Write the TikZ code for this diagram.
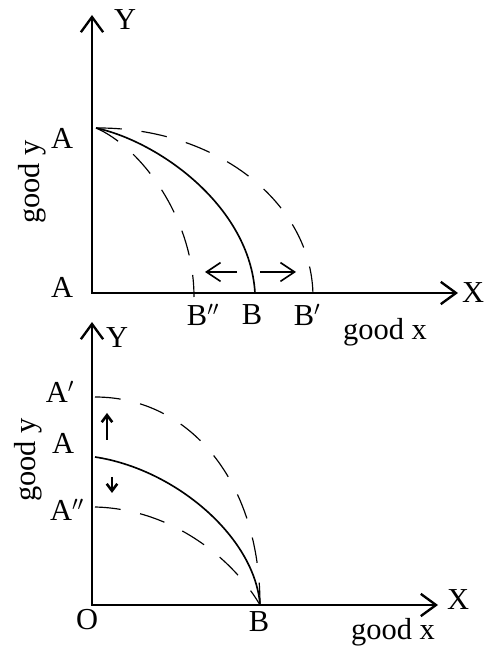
\documentclass[tikz,border=0pt]{standalone}
\usepackage{fontspec}
\setmainfont{Liberation Serif}
\usepackage{tikz}
\usetikzlibrary{
  arrows.meta,
  calc
}

\begin{document}
\begin{tikzpicture}[x=0.03cm, y=0.03cm,
  lbl/.style={font=\fontsize{26}{30}\selectfont, inner sep=0pt},
  axisline/.style={line width=2pt, line cap=round,
    {Straight Barb[length=13pt,width=19pt]}-{Straight Barb[length=13pt,width=19pt]}},
  ppf/.style={line width=1.4pt},
  ppfdash/.style={line width=1pt, dash pattern=on 22pt off 17pt},
  shiftarrow/.style={line width=1.4pt, -{Straight Barb[length=12pt,width=16pt]}},
  nudge/.style={line width=2.2pt, -{Straight Barb[length=6pt,width=9pt]}}]
  \useasboundingbox (0,0) rectangle (485,647);

  \coordinate (yt) at (92,632);
  \coordinate (ot) at (92,354);
  \coordinate (xt) at (458,354);
  \draw[axisline] (yt) |- (xt);
  \coordinate (At) at (96,519);
  \coordinate (Bt) at (255,354);
  \coordinate (Bpt) at (313,350);
  \coordinate (Bppt) at (194,350);
  \draw[ppf] (At) .. controls (160,505) and (250,440) .. (Bt);
  \draw[ppfdash] (At) .. controls (216,520) and (313,444) .. (Bpt);
  \draw[ppfdash] (At) .. controls (140,500) and (194,430) .. (Bppt);
  \coordinate (lft0) at (237,375);
  \coordinate (lft1) at (205,375);
  \coordinate (rgt0) at (260,375);
  \coordinate (rgt1) at (296,375);
  \draw[shiftarrow] (lft0) -- (lft1);
  \draw[shiftarrow] (rgt0) -- (rgt1);
  \foreach \nm/\px/\py/\txt in {ylbt/125/627/Y, xlbt/473/354/X, alblt/62/509/A,
      aolbt/62/360/A, bpplbt/203/332/B$''$, bblbt/252/332/B, bplbt/307/332/B$'$,
      gxlbt/385/315/good x}{
    \node[lbl] (\nm) at (\px,\py) {\txt};
  }
  \node[lbl, rotate=90] (gylbt) at (32,465) {good y};

  \coordinate (yb) at (92,325);
  \coordinate (ob) at (92,42);
  \coordinate (xb) at (438,42);
  \draw[axisline] (yb) |- (xb);
  \coordinate (Ab) at (95,190);
  \coordinate (Apb) at (95,250);
  \coordinate (Appb) at (95,140);
  \coordinate (Bb) at (260,42);
  \draw[ppf] (Ab) .. controls (175,178) and (255,110) .. (Bb);
  \draw[ppfdash] (Apb) .. controls (190,250) and (260,165) .. (Bb);
  \draw[ppfdash] (Appb) .. controls (175,138) and (235,85) .. (Bb);
  \coordinate (up0) at (107,207);
  \coordinate (up1) at (107,234);
  \coordinate (dn0) at (112,170);
  \coordinate (dn1) at (112,154);
  \draw[nudge] (up0) -- (up1);
  \draw[nudge] (dn0) -- (dn1);
  \foreach \nm/\px/\py/\txt in {ylbb/117/309/Y, xlbb/458/47/X, olbb/87/27/O,
      bblbb/259/25/B, gxlbb/393/15/good x, aplbb/60/255/A$'$, albb/63/204/A,
      applbb/67/137/A$''$}{
    \node[lbl] (\nm) at (\px,\py) {\txt};
  }
  \node[lbl, rotate=90] (gylbb) at (28,187) {good y};
\end{tikzpicture}
\end{document}
